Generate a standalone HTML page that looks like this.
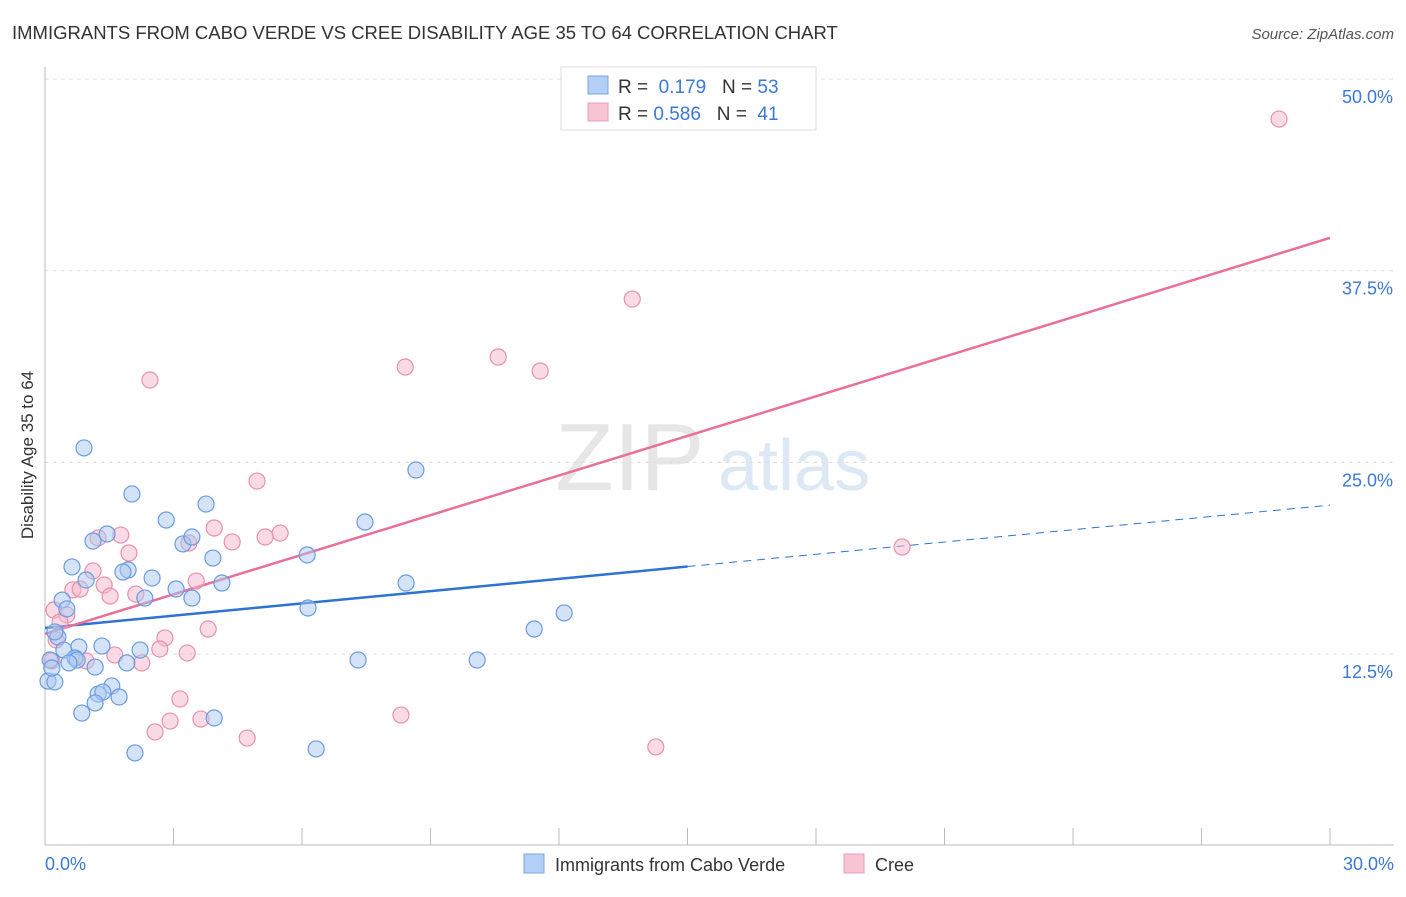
<!DOCTYPE html>
<html><head><meta charset="utf-8"><style>
body{margin:0;background:#fff;font-family:"Liberation Sans",sans-serif;}
svg text{font-family:"Liberation Sans",sans-serif;}
</style></head><body>
<svg id="chart" width="1406" height="892" xmlns="http://www.w3.org/2000/svg">
<text x="12" y="39" font-size="18.5" fill="#333">IMMIGRANTS FROM CABO VERDE VS CREE DISABILITY AGE 35 TO 64 CORRELATION CHART</text>
<text x="1394" y="39" font-size="15" fill="#555" text-anchor="end" font-style="italic">Source: ZipAtlas.com</text>
<text x="555" y="490" font-size="96" fill="#e6e6e6" font-family="Liberation Serif">ZIP</text>
<text x="718" y="490" font-size="72" fill="#dde8f5">atlas</text>
<text transform="translate(33,455) rotate(-90)" font-size="17" fill="#333" text-anchor="middle">Disability Age 35 to 64</text>
<g id="grid"></g><g id="axes"></g><g id="trend"></g><g id="points"></g>
<g>
<rect x="561" y="67" width="255" height="63" fill="#fff" stroke="#ddd"/>
<rect x="588" y="76" width="20" height="18" fill="#b3cff5" stroke="#7aa5e0"/>
<text x="618" y="93" font-size="19" fill="#333">R = <tspan fill="#3b78d8">&#160;0.179</tspan>&#160;&#160;&#160;N = <tspan fill="#3b78d8">53</tspan></text>
<rect x="588" y="103" width="20" height="18" fill="#f8c5d5" stroke="#ea9ab4"/>
<text x="618" y="120" font-size="19" fill="#333">R = <tspan fill="#3b78d8">0.586</tspan>&#160;&#160;&#160;N = <tspan fill="#3b78d8">&#160;41</tspan></text>
</g>
<g>
<rect x="524" y="854" width="20" height="19" fill="#b3cff5" stroke="#7aa5e0"/>
<text x="555" y="871" font-size="18" fill="#333">Immigrants from Cabo Verde</text>
<rect x="844" y="854" width="20" height="19" fill="#f8c5d5" stroke="#ea9ab4"/>
<text x="875" y="871" font-size="18" fill="#333">Cree</text>
</g>
</svg>
<script>
const blueX=[0.91,2.03,3.76,2.83,1.45,3.22,1.12,3.43,3.92,0.63,1.94,1.82,2.50,0.96,4.13,3.06,3.43,2.33,0.40,0.51,6.12,8.66,7.47,8.43,6.14,12.12,11.42,0.30,0.79,1.33,0.44,2.22,0.70,0.12,0.75,0.56,1.17,1.91,7.31,10.09,0.07,0.23,1.56,1.24,1.35,1.73,1.17,0.86,3.95,6.33,2.10,0.23,0.16];
const blueY=[25.94,22.94,22.28,21.24,20.33,19.68,19.87,20.13,18.76,18.18,17.98,17.85,17.46,17.33,17.13,16.74,16.15,16.15,16.02,15.44,18.96,24.50,21.11,17.13,15.50,15.18,14.13,13.61,12.96,13.02,12.76,12.76,12.24,12.11,12.11,11.92,11.65,11.92,12.11,12.11,10.74,10.68,10.42,9.89,10.02,9.70,9.31,8.65,8.33,6.31,6.05,13.94,11.59];
const pinkX=[28.81,13.71,10.58,8.41,11.56,2.45,4.95,5.49,3.95,5.14,4.37,1.77,1.24,3.36,1.96,1.12,1.38,0.65,0.82,3.53,1.52,2.12,0.21,0.51,0.35,3.81,2.80,0.26,2.68,3.32,1.63,0.96,2.26,0.16,3.15,2.92,2.57,3.64,4.72,8.31,14.26,20.01];
const pinkY=[47.39,35.65,31.87,31.22,30.96,30.37,23.78,20.39,20.72,20.13,19.81,20.26,20.07,19.74,19.09,17.92,17.00,16.68,16.74,17.26,16.28,16.41,15.37,15.05,14.59,14.13,13.55,13.42,12.83,12.57,12.44,12.05,11.92,12.05,9.57,8.13,7.42,8.26,7.02,8.52,6.44,19.48];
const yTicks=[12.5,25.0,37.5,50.0];
const xTicks=[0,3,6,9,12,15,18,21,24,27,30];
const blueTrend=[14.2,0.267]; // intercept, slope
const pinkTrend=[13.81,0.861];
const blueSolidEnd=15;
const NS="http://www.w3.org/2000/svg";
const X=v=>45+v/30*1285;
const Y=v=>845.7-v/12.5*191.67;
function mk(t,a,p){const e=document.createElementNS(NS,t);for(const k in a)e.setAttribute(k,a[k]);p.appendChild(e);return e;}
const grid=document.getElementById('grid'),axes=document.getElementById('axes'),trend=document.getElementById('trend'),pts=document.getElementById('points');
yTicks.forEach(t=>{
 const l=mk('line',{x1:45,x2:1394,y1:Y(t),y2:Y(t),stroke:'#ddd','stroke-dasharray':'4,4'},grid);
 
 
 const tx=mk('text',{x:1393,y:Y(t)+24,'font-size':18,fill:'#3b78d8','text-anchor':'end'},axes);
 tx.textContent=t.toFixed(1)+'%';
 
 
});
const ax=mk('line',{x1:45,x2:1394,y1:845,y2:845,stroke:'#bbb'},axes);


const ay=mk('line',{x1:45,x2:45,y1:67,y2:845,stroke:'#bbb'},axes);


xTicks.forEach(t=>{
 const l=mk('line',{x1:X(t),x2:X(t),y1:828,y2:845,stroke:'#bbb'},axes);
 
 
});
[[0,'0.0%',45,'start'],[30,'30.0%',1394,'end']].forEach(d=>{
 const tx=mk('text',{x:d[2],y:870,'font-size':18,fill:'#3b78d8','text-anchor':d[3]},axes);
 tx.textContent=d[1];
 
 
});
function addPts(xs,ys,fill,stroke,name){
 xs.forEach((x,i)=>{
  const c=mk('circle',{cx:X(x),cy:Y(ys[i]),r:8,fill:fill,'fill-opacity':0.5,stroke:stroke,'stroke-width':1.2},pts);
  
  
 });
}
addPts(pinkX,pinkY,'#f5b8cb','#e890ab','cree-point');
addPts(blueX,blueY,'#a9c8f0','#6a9be0','cabo-verde-point');
const bt=v=>blueTrend[0]+blueTrend[1]*v, pt=v=>pinkTrend[0]+pinkTrend[1]*v;
const b1=mk('line',{x1:X(0),y1:Y(bt(0)),x2:X(blueSolidEnd),y2:Y(bt(blueSolidEnd)),stroke:'#2e72d2','stroke-width':2.5},trend);


const b2=mk('line',{x1:X(blueSolidEnd),y1:Y(bt(blueSolidEnd)),x2:X(30),y2:Y(bt(30)),stroke:'#2e72d2','stroke-width':1,'stroke-dasharray':'8,6'},trend);


const p1=mk('line',{x1:X(0),y1:Y(pt(0)),x2:X(30),y2:Y(pt(30)),stroke:'#e8709a','stroke-width':2.5},trend);


</script>
</body></html>
